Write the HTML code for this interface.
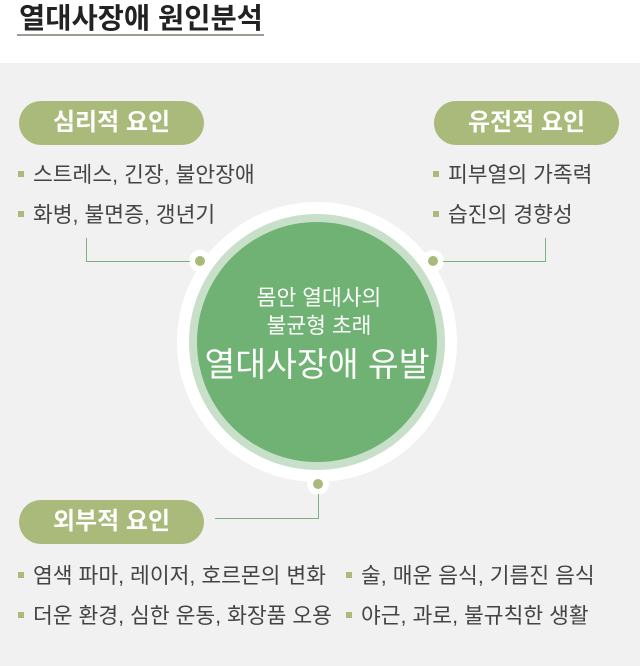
<!DOCTYPE html>
<html><head><meta charset="utf-8"><style>
*{margin:0;padding:0;box-sizing:border-box}
body{width:640px;height:666px;background:#fff;position:relative;overflow:hidden;font-family:"Liberation Sans","Noto Sans CJK KR",sans-serif}
.abs{position:absolute}
.title{left:19px;top:-4px;font-size:28.5px;font-weight:bold;color:#222;white-space:nowrap}
.uline{left:17px;top:34px;width:247px;height:2px;background:#a09a95}
.bg{left:0;top:63px;width:640px;height:603px;background:#f1f1f1}
.pill{height:44px;width:185px;border-radius:22px;background:#a9ba7a;color:#fff;font-size:24px;font-weight:bold;text-align:center;line-height:44px}
.it{font-size:21.5px;color:#444;white-space:nowrap;line-height:24px}
.it:before{content:"";display:inline-block;width:6px;height:6px;background:#a9ba7a;margin-right:9px;vertical-align:middle;position:relative;top:-2px}
</style></head><body>
<div class="abs title">열대사장애 원인분석</div>
<div class="abs uline"></div>
<div class="abs bg"></div>

<svg class="abs" style="left:0;top:0" width="640" height="666">
<circle cx="317" cy="342" r="140" fill="#fff"/>
<circle cx="317" cy="342" r="128" fill="#c8e0c9"/>
<circle cx="317" cy="342" r="120" fill="#6fb273"/>
<g fill="#fff"><circle cx="200" cy="261" r="11"/><circle cx="433" cy="261" r="11"/><circle cx="318" cy="484" r="11"/></g>
<g fill="#a9ba7a"><circle cx="200" cy="261" r="5"/><circle cx="433" cy="261" r="5"/><circle cx="318" cy="484" r="5"/></g>
<g stroke="#7cb07f" stroke-width="1" fill="none">
<path d="M86.5 238 V261.5 H190"/>
<path d="M443 261.5 H545.5 V238"/>
<path d="M318.5 494 V518.5 H215"/>
</g>
<g fill="#fff" text-anchor="middle" font-family="Liberation Sans, Noto Sans CJK KR, sans-serif">
<text x="319" y="305" font-size="21.5">몸안 열대사의</text>
<text x="319" y="333" font-size="21.5">불균형 초래</text>
<text x="317" y="376" font-size="33.5">열대사장애 유발</text>
</g>
</svg>

<div class="abs pill" style="left:19px;top:101px">심리적 요인</div>
<div class="abs pill" style="left:434px;top:101px">유전적 요인</div>
<div class="abs pill" style="left:19px;top:500px">외부적 요인</div>

<div class="abs it" style="left:18px;top:163px">스트레스, 긴장, 불안장애</div>
<div class="abs it" style="left:18px;top:203px">화병, 불면증, 갱년기</div>
<div class="abs it" style="left:433px;top:163px">피부열의 가족력</div>
<div class="abs it" style="left:433px;top:203px">습진의 경향성</div>
<div class="abs it" style="left:18px;top:564px">염색 파마, 레이저, 호르몬의 변화</div>
<div class="abs it" style="left:18px;top:604px">더운 환경, 심한 운동, 화장품 오용</div>
<div class="abs it" style="left:346px;top:564px">술, 매운 음식, 기름진 음식</div>
<div class="abs it" style="left:346px;top:604px">야근, 과로, 불규칙한 생활</div>
</body></html>
